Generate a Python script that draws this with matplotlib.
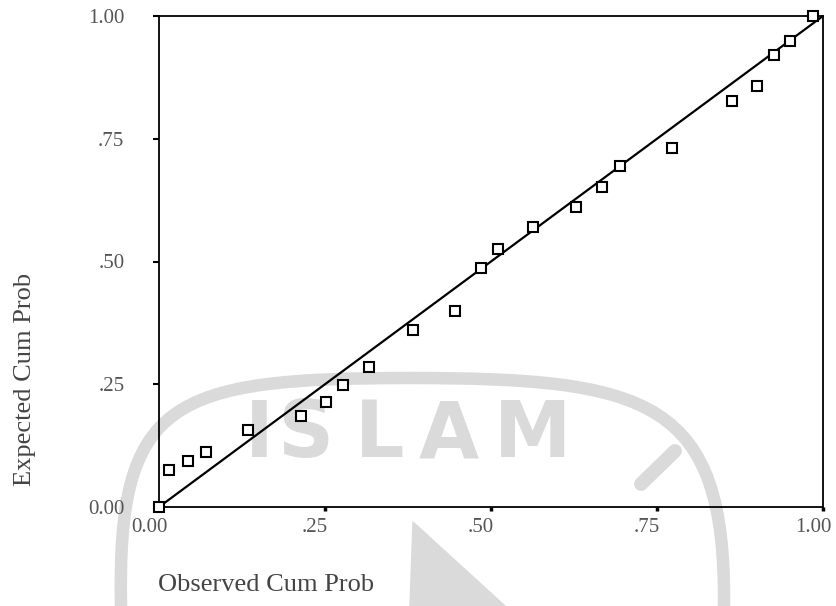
import matplotlib
matplotlib.use("Agg")
import matplotlib.pyplot as plt
import matplotlib.patches as mpatches
from matplotlib.path import Path
from matplotlib.transforms import ScaledTranslation

# Normal P-P plot: observed vs expected cumulative probability
observed = [0.0, 0.015, 0.044, 0.071, 0.134, 0.214, 0.251, 0.277, 0.316,
            0.383, 0.446, 0.485, 0.511, 0.563, 0.628, 0.667, 0.694, 0.773,
            0.863, 0.901, 0.926, 0.950, 0.985]
expected = [0.0, 0.075, 0.094, 0.112, 0.157, 0.185, 0.214, 0.248, 0.285,
            0.360, 0.399, 0.487, 0.525, 0.570, 0.611, 0.652, 0.694, 0.731,
            0.827, 0.857, 0.921, 0.949, 1.0]
ref_line = [0.0, 1.0]
tick_values = [0.0, 0.25, 0.50, 0.75, 1.0]
tick_labels = ["0.00", ".25", ".50", ".75", "1.00"]

W, H = 837, 606
fig = plt.figure(figsize=(W / 100, H / 100), dpi=100)
fig.patch.set_facecolor("white")
inch = fig.dpi_scale_trans


def px(x, y):
    # pixel position (from top-left) -> inches for dpi_scale_trans
    return (x / 100, (H - y) / 100)


# faint logo stamp in the background
stamp = "#dadada"
ring = Path([px(121, 606), px(117, 400), px(170, 378), px(410, 378),
             px(650, 378), px(726, 400), px(724, 606)],
            [Path.MOVETO, Path.CURVE4, Path.CURVE4, Path.CURVE4,
             Path.CURVE4, Path.CURVE4, Path.CURVE4])
fig.add_artist(mpatches.PathPatch(ring, transform=inch, facecolor="none",
                                  edgecolor=stamp, lw=9, zorder=-2))
fig.add_artist(mpatches.Polygon([px(410, 606), px(413, 522), px(505, 606)],
                                closed=True, transform=inch, color=stamp,
                                zorder=-2))
slash = [px(641, 484), px(675, 451)]
fig.add_artist(plt.Line2D([p[0] for p in slash], [p[1] for p in slash],
                          transform=inch, color=stamp, lw=10,
                          solid_capstyle="round", zorder=-2))
for letter, cx in zip("ISLAM", [259, 305, 380, 449, 533]):
    fig.text(cx / W, 1 - 457 / H, letter, fontsize=56, fontweight="bold",
             family="DejaVu Sans", color=stamp, ha="center", va="baseline",
             zorder=-2)

ax = fig.add_axes([159 / W, 1 - 507 / H, (823 - 159) / W, (507 - 16) / H])
ax.patch.set_alpha(0)

ax.plot(ref_line, ref_line, color="black", lw=1.6, zorder=2)
ax.plot(observed, expected, linestyle="none", marker="s", markersize=7,
        markerfacecolor="white", markeredgecolor="black",
        markeredgewidth=1.5, clip_on=False, zorder=3)

ax.set_xlim(0, 1)
ax.set_ylim(0, 1)
for side in ax.spines.values():
    side.set_linewidth(1.3)

ax.set_xticks(tick_values)
ax.set_xticklabels(tick_labels)
ax.set_yticks(tick_values)
ax.set_yticklabels(tick_labels)
ax.tick_params(axis="x", direction="out", length=3, width=2.5, pad=5)
ax.tick_params(axis="y", direction="out", length=4, width=1.5, pad=21)
for lab in ax.get_xticklabels() + ax.get_yticklabels():
    lab.set_family("Liberation Serif")
    lab.set_fontsize(15)
    lab.set_color("#555555")
for lab in ax.get_xticklabels():
    lab.set_transform(lab.get_transform()
                      + ScaledTranslation(-0.1, 0, inch))

fig.text(158 / W, 1 - 585 / H, "Observed Cum Prob", family="Liberation Serif",
         fontsize=19, color="#444444", ha="left", va="center")
fig.text(25 / W, 1 - 379 / H, "Expected Cum Prob", family="Liberation Serif",
         fontsize=19, color="#444444", rotation=90, ha="center", va="center")

fig.savefig("out.png", dpi=100)
